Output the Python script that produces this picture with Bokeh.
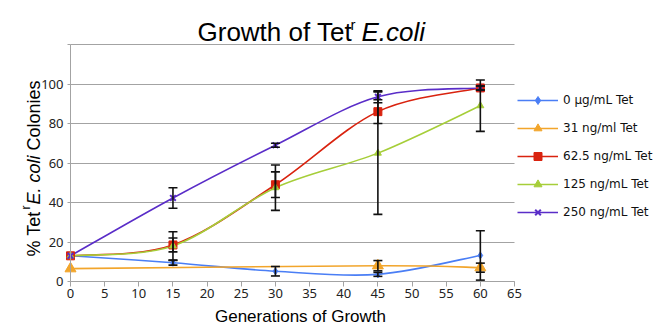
import math
from bokeh.plotting import figure
from bokeh.models import (ColumnDataSource, Whisker, TeeHead, Legend, LegendItem,
                          Label, FixedTicker, Range1d)
from bokeh.embed import file_html
from bokeh.resources import INLINE

# ---------------- data ----------------
generations = [0, 15, 30, 45, 60]
series_names = ["0 \u00b5g/mL Tet", "31 ng/ml Tet", "62.5 ng/mL Tet",
                "125 ng/mL Tet", "250 ng/mL Tet"]
NA = float("nan")
tet_0 = [13.0, 9.5, 5.2, 3.6, 13.2]
tet_31 = [6.5, NA, NA, 8.0, 7.0]
tet_62 = [13.0, 18.5, 49.0, 86.0, 98.0]
tet_125 = [13.0, 18.0, 47.5, 65.0, 89.0]
tet_250 = [13.0, 42.3, 69.0, 93.5, 98.0]
err_0 = [0, 1.2, 2.4, 1.0, 12.5]
err_31 = [0, 0, 0, 2.6, 2.3]
err_62 = [0, 3.5, 6.5, 6.0, 1.0]
err_125 = [0, 7.2, 11.5, 31.0, 13.0]
err_250 = [0, 5.2, 1.0, 3.0, 1.0]
x_ticks = [0, 5, 10, 15, 20, 25, 30, 35, 40, 45, 50, 55, 60, 65]
y_ticks = [0, 20, 40, 60, 80, 100, 120]

values = [tet_0, tet_31, tet_62, tet_125, tet_250]
errors = [err_0, err_31, err_62, err_125, err_250]

# ---------------- styles / layout (pixels) ----------------
colors = ["#4A7EF5", "#F2A52B", "#D9230F", "#A6CE39", "#5A2DC8"]
markers = ["diamond", "triangle", "square", "triangle", "x"]
msizes = [7, 11, 8, 7, 8]

W, H = 655, 325
PX_L, PX_R, PX_T, PX_B = 70, 514, 44, 281   # where the axes' ends lie
x_lo, x_hi = x_ticks[0], x_ticks[-1]
y_lo, y_hi = y_ticks[0], y_ticks[-1]
kx = (PX_R - PX_L) / (x_hi - x_lo)
ky = (PX_B - PX_T) / (y_hi - y_lo)

# the frame fills the whole canvas; axes sit at fixed locations inside it
p = figure(width=W, height=H,
           x_range=Range1d(x_lo - PX_L / kx, x_hi + (W - PX_R) / kx),
           y_range=Range1d(y_lo - (H - PX_B) / ky, y_hi + PX_T / ky),
           output_backend="svg", toolbar_location=None,
           min_border_left=0, min_border_right=0,
           min_border_top=0, min_border_bottom=0)
p.outline_line_color = None
p.background_fill_color = "white"
p.border_fill_color = "white"

grid_col = "#A3A3A3"
p.xgrid.visible = False
if "cross_bounds" in p.ygrid[0].properties():
    p.ygrid.cross_bounds = (x_lo, x_hi)
    p.ygrid.bounds = (y_lo, y_hi)
    p.ygrid.grid_line_color = grid_col
    p.ygrid.grid_line_width = 1
else:
    p.ygrid.visible = False
    p.segment(x0=[x_lo] * (len(y_ticks) - 1), x1=[x_hi] * (len(y_ticks) - 1),
              y0=y_ticks[1:], y1=y_ticks[1:], line_color=grid_col,
              line_width=1, level="underlay")

for ax in (p.xaxis, p.yaxis):
    ax.axis_line_color = grid_col
    ax.major_tick_line_color = grid_col
    ax.minor_tick_line_color = None
    ax.major_label_text_font = "Noto Sans"
    ax.major_label_text_font_size = "13px"
    ax.major_label_text_color = "#222222"
    ax.major_tick_in = 0

p.xaxis.ticker = FixedTicker(ticks=x_ticks)
p.xaxis.bounds = (x_lo, x_hi)
p.xaxis.fixed_location = y_lo
p.xaxis.major_tick_out = 5
p.xaxis.major_label_standoff = 2
p.yaxis.ticker = FixedTicker(ticks=y_ticks)
p.yaxis.bounds = (y_lo, y_hi)
p.yaxis.fixed_location = x_lo
p.yaxis.major_label_overrides = {120: ""}
p.yaxis.major_tick_out = 3
p.yaxis.major_label_standoff = 4


def smooth(xs, ys):
    n = len(xs)
    d = dict(x0=[], y0=[], x1=[], y1=[], cx0=[], cy0=[], cx1=[], cy1=[])
    for i in range(n - 1):
        a = max(i - 1, 0)
        b = min(i + 2, n - 1)
        d["x0"].append(xs[i]); d["y0"].append(ys[i])
        d["x1"].append(xs[i + 1]); d["y1"].append(ys[i + 1])
        d["cx0"].append(xs[i] + (xs[i + 1] - xs[a]) / 6.0)
        d["cy0"].append(ys[i] + (ys[i + 1] - ys[a]) / 6.0)
        d["cx1"].append(xs[i + 1] - (xs[b] - xs[i]) / 6.0)
        d["cy1"].append(ys[i + 1] - (ys[b] - ys[i]) / 6.0)
    return d


def present(ys):
    return [(x, y) for x, y in zip(generations, ys) if not math.isnan(y)]

# lines
line_rs = []
for ys, c in zip(values, colors):
    pts = present(ys)
    src = ColumnDataSource(smooth([q[0] for q in pts], [q[1] for q in pts]))
    r = p.bezier(x0="x0", y0="y0", x1="x1", y1="y1", cx0="cx0", cy0="cy0",
                 cx1="cx1", cy1="cy1", source=src, line_color=c, line_width=1.6)
    line_rs.append(r)

# error bars
for ys, es in zip(values, errors):
    idx = [i for i, e in enumerate(es) if e > 0 and not math.isnan(ys[i])]
    src = ColumnDataSource(dict(
        x=[generations[i] for i in idx],
        upper=[ys[i] + es[i] for i in idx],
        lower=[ys[i] - es[i] for i in idx]))
    w = Whisker(base="x", upper="upper", lower="lower", source=src,
                dimension="height", line_color="#111111", line_width=1.6,
                upper_head=TeeHead(size=9, line_color="#111111", line_width=1.6),
                lower_head=TeeHead(size=9, line_color="#111111", line_width=1.6),
                level="glyph")
    p.add_layout(w)

# markers
marker_rs = []
for ys, c, m, s in zip(values, colors, markers, msizes):
    pts = present(ys)
    r = p.scatter(x=[q[0] for q in pts], y=[q[1] for q in pts], marker=m,
                  size=s, fill_color=c, line_color=c,
                  line_width=2 if m == "x" else 1)
    marker_rs.append(r)

items = [LegendItem(label=n, renderers=[l, m])
         for n, l, m in zip(series_names, line_rs, marker_rs)]
legend = Legend(items=items, location=(PX_R + 3, H - 222),
                orientation="vertical", glyph_width=41, glyph_height=20,
                label_height=20, spacing=8, label_standoff=5, padding=0,
                margin=0, border_line_color=None, background_fill_alpha=0,
                label_text_font="DejaVu Sans", label_text_font_size="12px",
                label_text_color="#111111")
p.add_layout(legend)

# ---------------- texts (screen units; frame == canvas) ----------------
def lab(text, ix, iy, size, style="normal", angle=0, align="left",
        baseline="alphabetic", font="Liberation Sans"):
    p.add_layout(Label(text=text, x=ix, y=H - iy,
                       x_units="screen", y_units="screen",
                       text_font=font, text_font_size=size,
                       text_font_style=style, angle=angle, text_align=align,
                       text_baseline=baseline, text_color="#000000"))

# title
lab("Growth of Tet", 197, 31.5, "26px")
lab("r", 350, 23.5, "15px")
lab("E.coli", 361, 31.5, "26px", style="italic")

# x axis title
lab("Generations of Growth", 300, 316, "17px", align="center",
    baseline="middle")

# y axis title (rotated, reading bottom-to-top)
yb = 256
xb = 33
a = math.pi / 2
lab("% Tet", xb, yb, "18px", angle=a)
lab("r", xb - 8, yb - 47, "12px", angle=a)
lab(" E. coli", xb, yb - 52, "18px", style="italic", angle=a)
lab(" Colonies", xb, yb - 106, "18px", angle=a)

open("out.html", "w").write(file_html(p, INLINE))
